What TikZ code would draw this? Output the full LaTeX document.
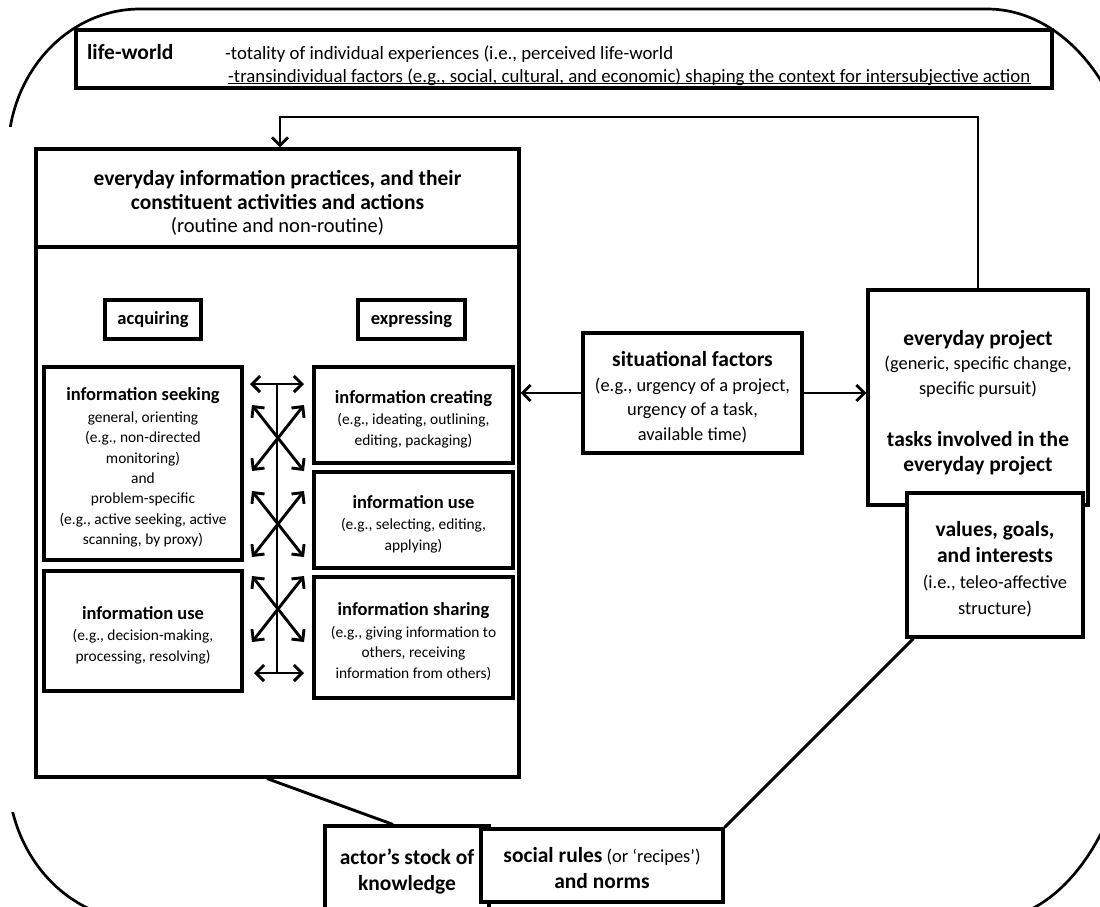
\documentclass[tikz,border=0pt]{standalone}
\usepackage{fontspec}
\setmainfont{Carlito}
\usetikzlibrary{arrows.meta,calc}
\newcommand\Lb{\fontsize{21.5}{25}\selectfont\bfseries}
\newcommand\Lr{\fontsize{18.4}{25}\selectfont}
\newcommand\Sb{\fontsize{18.5}{20.5}\selectfont\bfseries}
\begin{document}
\begin{tikzpicture}[x=1pt,y=-1pt,
  box/.style={draw, line width=3.1pt, fill=white, inner sep=0pt},
  txt/.style={inner sep=0pt, align=center},
  conn/.style={line width=2.9pt},
  outer/.style={line width=2.7pt},
  >={Straight Barb[length=8pt,width=16pt]},
  big/.style={font={\fontsize{18.4}{24.5}\selectfont}},
  small/.style={font={\fontsize{15.4}{20.3}\selectfont}}]
\useasboundingbox (0,0) rectangle (1100,906);
\clip (0,0) rectangle (1100,906);
% outer life-world boundary
\draw[outer] (140,9) -- (987,9)
  .. controls (1069.8,9) and (1137,100.8) .. (1137,214)
  -- (1137,672)
  .. controls (1137,810) and (1069.8,920) .. (987,920)
  -- (140,920)
  .. controls (67.1,920) and (8,854.2) .. (8,773)
  -- (8,154)
  .. controls (8,73.9) and (67.1,9) .. (140,9) -- cycle;
\fill[white] (0,127) rectangle (13.5,812);
% life-world box
\node[box, minimum width=976pt, minimum height=58pt] (lw) at (564,59) {};
\node[anchor=base west, inner sep=0pt] (lwt) at (87,59) {\Lb life-world};
\node[anchor=base west, inner sep=0pt, font={\fontsize{18.8}{25}\selectfont}] (lw1) at (225,59) {-totality of individual experiences (i.e., perceived life-world};
\node[anchor=base west, inner sep=0pt, font={\fontsize{18.8}{25}\selectfont}] (lw2) at (228,82) {-transindividual factors (e.g., social, cultural, and economic) shaping the context for intersubjective action};
\draw[line width=1.5pt] ([yshift=-1.5pt]lw2.base west) -- ([yshift=-1.5pt]lw2.base east);
% main box
\node[box, minimum width=483pt, minimum height=628pt] (main) at (277.5,463) {};
\node[box, minimum width=483pt, minimum height=98pt] (hdr) at (277.5,198) {};
\node[txt, font={\fontsize{20.5}{23.5}\selectfont}] (hdrT) at ([yshift=-5pt]hdr.center)
  {\Lb everyday information practices, and their\\ \Lb constituent activities and actions\\ (routine and non-routine)};
\node[box, minimum width=96pt, minimum height=39pt] (acq) at (153,319.5) {};
\node[txt] (acqT) at (acq.center) {\Sb acquiring};
\node[box, minimum width=107pt, minimum height=39pt] (exp) at (411.5,319.5) {};
\node[txt] (expT) at (exp.center) {\Sb expressing};
\node[box, minimum width=198pt, minimum height=193pt] (seek) at (143,463.5) {};
\node[txt, small] (seekT) at ([yshift=-4pt]seek.center)
  {\Sb information seeking\\[1.5pt] general, orienting\\ (e.g., non-directed\\ monitoring)\\ and\\ problem-specific\\ (e.g., active seeking, active\\ scanning, by proxy)};
\node[box, minimum width=198pt, minimum height=120pt] (luse) at (143,631) {};
\node[txt, small] (luseT) at ([yshift=-4pt]luse.center)
  {\Sb information use\\[1.5pt] (e.g., decision-making,\\ processing, resolving)};
\node[box, minimum width=199pt, minimum height=96pt] (create) at (413.5,415) {};
\node[txt, small] (createT) at ([yshift=-4pt]create.center)
  {\Sb information creating\\[1.5pt] (e.g., ideating, outlining,\\ editing, packaging)};
\node[box, minimum width=199pt, minimum height=96pt] (ruse) at (413.5,520) {};
\node[txt, small] (ruseT) at ([yshift=-4pt]ruse.center)
  {\Sb information use\\[1.5pt] (e.g., selecting, editing,\\ applying)};
\node[box, minimum width=199pt, minimum height=121pt] (share) at (413.5,637.5) {};
\node[txt, small] (shareT) at ([yshift=-4pt]share.center)
  {\Sb information sharing\\[1.5pt] (e.g., giving information to\\ others, receiving\\ information from others)};
% arrow column
\coordinate (ct) at (277,384);
\coordinate (cb) at (277,673);
\draw[conn] (ct) -- (cb);
\draw[conn,<->] ([xshift=-27pt]ct) -- ([xshift=27pt]ct);
\draw[conn,<->] ([xshift=-23pt]cb) -- ([xshift=27pt]cb);
\foreach \c in {438,524,609}{
  \coordinate (xc) at (278,\c);
  \draw[conn,<->] ($(xc)+(-26,-33)$) -- ($(xc)+(26,33)$);
  \draw[conn,<->] ($(xc)+(26,-33)$) -- ($(xc)+(-26,33)$);
}
% situational factors
\node[box, minimum width=219pt, minimum height=120pt] (sit) at (692.5,393) {};
\node[txt, big] (sitT) at ([yshift=-4pt]sit.center)
  {\Lb situational factors\\ (e.g., urgency of a project,\\ urgency of a task,\\ available time)};
% everyday project
\node[box, minimum width=220pt, minimum height=215pt] (proj) at (978,397.5) {};
\node[txt, big] (projT) at ([yshift=-5pt]proj.center)
  {\Lb everyday project\\ (generic, specific change,\\ specific pursuit)\\[28pt] \Lb tasks involved in the\\ \Lb everyday project};
\node[box, minimum width=176pt, minimum height=144pt] (vals) at (995,565) {};
\node[txt, font={\fontsize{18.4}{26}\selectfont}] (valsT) at ([yshift=-4pt]vals.center)
  {\Lb values, goals,\\ \Lb and interests\\ (i.e., teleo-affective\\ structure)};
% bottom boxes
\node[box, minimum width=164pt, minimum height=88pt] (actor) at (407,870) {};
\node[txt, font={\fontsize{18.4}{26}\selectfont}] (actorT) at ([yshift=-1pt]actor.center)
  {\Lb actor’s stock of\\ \Lb knowledge};
\node[box, minimum width=242pt, minimum height=73pt] (social) at (602,865.5) {};
\node[txt, font={\fontsize{18.4}{26}\selectfont}] (socialT) at ([yshift=-3pt]social.center)
  {{\Lb social rules} (or ‘recipes’)\\ \Lb and norms};
% connectors
\draw[conn,->] (sit.west) -- (sit.west -| main.east);
\draw[conn,->] (sit.east) -- (sit.east -| proj.west);
\coordinate (fb) at (280,117);
\draw[conn,->] (proj.north) |- (fb) -- (fb |- hdr.north);
\draw[conn] ([xshift=-10.5pt]main.south) -- ([xshift=-14pt]actor.north);
\draw[conn] ([xshift=8pt]vals.south west) -- (social.north east);
\end{tikzpicture}
\end{document}
